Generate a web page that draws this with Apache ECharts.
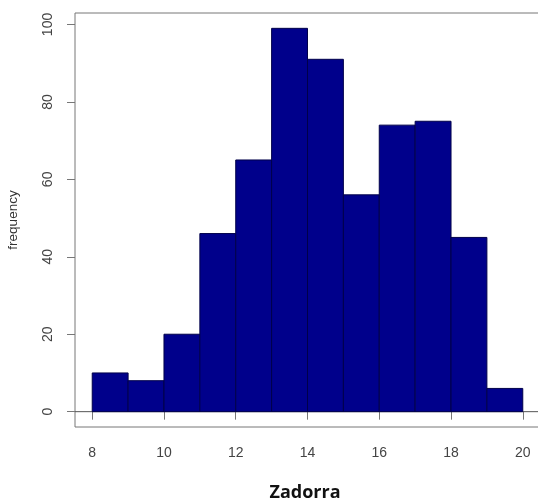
<!DOCTYPE html>
<html>
<head>
<meta charset="utf-8">
<script src="https://cdn.jsdelivr.net/npm/echarts@6/dist/echarts.min.js"></script>
<style>html,body{margin:0;padding:0;background:#fff}#c{width:538px;height:499px}</style>
</head>
<body>
<div id="c"></div>
<script>
const binStarts = [8, 9, 10, 11, 12, 13, 14, 15, 16, 17, 18, 19];
const binEnds = [9, 10, 11, 12, 13, 14, 15, 16, 17, 18, 19, 20];
const counts = [10, 8, 20, 46, 65, 99, 91, 56, 74, 75, 45, 6];
const xTicks = [8, 10, 12, 14, 16, 18, 20];
const yTicks = [0, 20, 40, 60, 80, 100];
const xTitle = 'Zadorra';
const yTitle = 'frequency';

const data = binStarts.map((s, i) => [s, binEnds[i], counts[i]]);
const chart = echarts.init(document.getElementById('c'), null, {renderer: 'canvas'});
const axisGray = '#777';
const textGray = '#444';
chart.setOption({
  animation: false,
  backgroundColor: '#fff',
  title: {
    text: xTitle,
    left: 300, top: 479, textAlign: 'center',
    textStyle: {fontFamily: 'Open Sans', fontWeight: 'bold', fontSize: 18, color: '#111'}
  },
  grid: {left: 75, top: 13, width: 465, height: 414, outerBoundsMode: 'none', containLabel: false,
    show: true, borderColor: axisGray, borderWidth: 1, backgroundColor: 'transparent'},
  xAxis: {
    type: 'value', min: 7.52, max: 20.48,
    splitLine: {show: false},
    axisLine: {show: false},
    axisTick: {show: true, length: 8, customValues: xTicks, lineStyle: {color: axisGray}},
    axisLabel: {customValues: xTicks, margin: 19, fontSize: 14, color: textGray, fontFamily: 'Liberation Sans'}
  },
  yAxis: {
    type: 'value', min: -3.96, max: 102.96,
    name: yTitle, nameLocation: 'middle', nameRotate: 90, nameGap: 55,
    nameTextStyle: {fontSize: 13.5, color: '#333', fontFamily: 'Liberation Sans'},
    splitLine: {show: false},
    axisLine: {show: false},
    axisTick: {show: true, length: 8, customValues: yTicks, lineStyle: {color: axisGray}},
    axisLabel: {customValues: yTicks, rotate: 90, margin: 20, fontSize: 14, color: textGray, fontFamily: 'Liberation Sans'}
  },
  series: [
    {
      type: 'custom',
      data: data,
      encode: {x: [0, 1], y: 2},
      renderItem: function (params, api) {
        const p0 = api.coord([api.value(0), 0]);
        const p1 = api.coord([api.value(1), api.value(2)]);
        return {
          type: 'rect',
          shape: {x: p0[0], y: p1[1], width: p1[0] - p0[0], height: p0[1] - p1[1]},
          style: {fill: '#00008B', stroke: '#00004a', lineWidth: 1}
        };
      }
    },
    {
      type: 'line',
      data: [[7.52, 0], [20.48, 0]],
      symbol: 'none',
      lineStyle: {color: '#555', width: 1},
      z: 1
    }
  ]
});
</script>
</body>
</html>
